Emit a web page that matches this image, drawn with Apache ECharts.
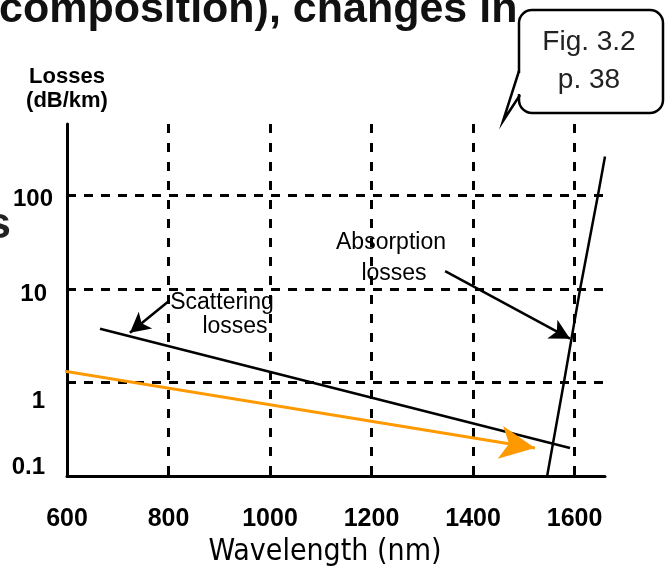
<!DOCTYPE html>
<html>
<head>
<meta charset="utf-8">
<script src="https://cdn.jsdelivr.net/npm/echarts@6/dist/echarts.min.js"></script>
<style>
html,body{margin:0;padding:0;background:#fff;}
#c{width:667px;height:572px;}
</style>
</head>
<body>
<div id="c"></div>
<script>
// ---- data ----
const xTickLabels = ['600', '800', '1000', '1200', '1400', '1600'];
const yTickLabels = ['0.1', '1', '10', '100'];
// Scattering losses line [wavelength nm, dB/km]
const scatteringWl = [665, 1591];
const scatteringLoss = [3.75, 0.199];
// Absorption losses line
const absorptionWl = [1546, 1579, 1611, 1646, 1660];
const absorptionLoss = [0.1, 1, 10, 100, 260];
// Orange overlay arrow
const orangeWl = [468, 1522];
const orangeLoss = [1.71, 0.199];
// Annotation arrows (from -> to)
const scatterArrowWl = [799, 724];
const scatterArrowLoss = [7.28, 3.40];
const absorbArrowWl = [1345, 1591];
const absorbArrowLoss = [15.5, 2.94];

const NARROW = "'Liberation Sans Narrow','DejaVu Sans Condensed','Arial Narrow',sans-serif";
const SANS = "'Liberation Sans',Arial,sans-serif";

const chart = echarts.init(document.getElementById('c'), null, {renderer: 'canvas'});

const zip = (a, b) => a.map((v, i) => [v, b[i]]);

const richY = {};
const yPads = [[0, 8, 18, 0], [38, 8, 0, 0], [10, 6, 0, 0], [8, 0, 0, 0]];
yPads.forEach((p, i) => {
  richY['k' + i] = {fontFamily: SANS, fontSize: 24, fontWeight: 'bold', color: '#000', padding: p};
});

function txt(text, x, y, font, fill, align) {
  return {type: 'text', z: 11, x: x, y: y,
    style: {text: text, font: font, fill: fill, textAlign: align, textVerticalAlign: 'middle', align: align, verticalAlign: 'middle'}};
}

const option = {
  animation: false,
  backgroundColor: '#fff',
  grid: {left: 67, right: 62, top: 124, bottom: 94, containLabel: false},
  xAxis: {
    type: 'value',
    min: 600, max: 1660, interval: 200,
    name: 'Wavelength (nm)',
    nameLocation: 'middle',
    nameGap: 61,
    nameTextStyle: {fontFamily: NARROW, fontSize: 30, color: '#000', lineHeight: 30, padding: [0, 22, 0, 0]},
    axisLine: {lineStyle: {color: '#000', width: 3}},
    axisTick: {show: false},
    axisLabel: {
      margin: 31, fontFamily: SANS, fontSize: 25, fontWeight: 'bold', color: '#000', lineHeight: 25,
      showMaxLabel: false,
      formatter: v => { const i = Math.round((v - 600) / 200); return xTickLabels[i] !== undefined && Math.abs(v - (600 + i * 200)) < 1e-6 ? xTickLabels[i] : ''; }
    },
    splitLine: {show: true, showMinLine: false, showMaxLine: false, lineStyle: {color: '#000', width: 3, type: [9, 10]}}
  },
  yAxis: {
    type: 'log', logBase: 10,
    min: 0.1, max: 580,
    name: 'Losses\n(dB/km)',
    nameLocation: 'end',
    nameGap: 11,
    nameTextStyle: {fontFamily: SANS, fontSize: 22, fontWeight: 'bold', color: '#000', lineHeight: 24, align: 'center'},
    axisLine: {lineStyle: {color: '#000', width: 3}},
    axisTick: {show: false},
    axisLabel: {
      margin: 14, showMaxLabel: false,
      formatter: v => {
        const e = Math.round(Math.log10(v)) + 1;
        if (Math.abs(Math.log10(v) - (e - 1)) > 1e-6 || !yTickLabels[e]) return '';
        return '{k' + e + '|' + yTickLabels[e] + '}';
      },
      rich: richY
    },
    splitLine: {show: true, showMinLine: false, showMaxLine: false, lineStyle: {color: '#000', width: 3, type: [9, 8]}}
  },
  series: [
    {
      name: 'Scattering losses', type: 'line',
      data: zip(scatteringWl, scatteringLoss),
      showSymbol: false, symbol: 'none',
      lineStyle: {color: '#000', width: 2.5},
      markLine: {
        silent: true, animation: false,
        symbol: ['none', 'arrow'], symbolSize: [16, 20],
        label: {show: false},
        lineStyle: {color: '#000', width: 2.5, type: 'solid'},
        data: [
          [{coord: [scatterArrowWl[0], scatterArrowLoss[0]]}, {coord: [scatterArrowWl[1], scatterArrowLoss[1]]}],
          [{coord: [absorbArrowWl[0], absorbArrowLoss[0]]}, {coord: [absorbArrowWl[1], absorbArrowLoss[1]]}]
        ]
      }
    },
    {
      name: 'Absorption losses', type: 'line',
      data: zip(absorptionWl, absorptionLoss),
      showSymbol: false, symbol: 'none', clip: false,
      lineStyle: {color: '#000', width: 2.5}
    },
    {
      name: 'Overlay', type: 'line', clip: false,
      data: orangeWl.map((w, i) => i === orangeWl.length - 1
        ? {value: [w, orangeLoss[i]], symbol: 'arrow', symbolSize: [25, 35], symbolRotate: -99.3}
        : {value: [w, orangeLoss[i]], symbol: 'none'}),
      itemStyle: {color: '#FF9900'},
      lineStyle: {color: '#FF9900', width: 3}
    }
  ],
  graphic: [
    txt('composition), changes in', -1, 10, 'bold 43px ' + SANS, '#111', 'left'),
    txt('s', 11, 226, 'bold 44px ' + SANS, '#222', 'right'),
    {type: 'rect', z: 10, shape: {x: 519, y: 10, width: 144, height: 103, r: 13}, style: {fill: '#fff', stroke: '#000', lineWidth: 2.5}},
    {type: 'rect', z: 10, shape: {x: 516, y: 73, width: 6, height: 21}, style: {fill: '#fff'}},
    {type: 'polyline', z: 10, shape: {points: [[519, 71], [503, 121], [520, 95]]}, style: {fill: null, stroke: '#000', lineWidth: 2.5}},
    txt('Fig. 3.2', 589, 42, '28px ' + SANS, '#222', 'center'),
    txt('p. 38', 589, 80, '28px ' + SANS, '#222', 'center'),
    txt('Scattering', 222, 303, '23px ' + SANS, '#000', 'center'),
    txt('losses', 235, 327, '23px ' + SANS, '#000', 'center'),
    txt('Absorption', 391, 243, '23px ' + SANS, '#000', 'center'),
    txt('losses', 394, 274, '23px ' + SANS, '#000', 'center')
  ]
};
chart.setOption(option);
</script>
</body>
</html>
